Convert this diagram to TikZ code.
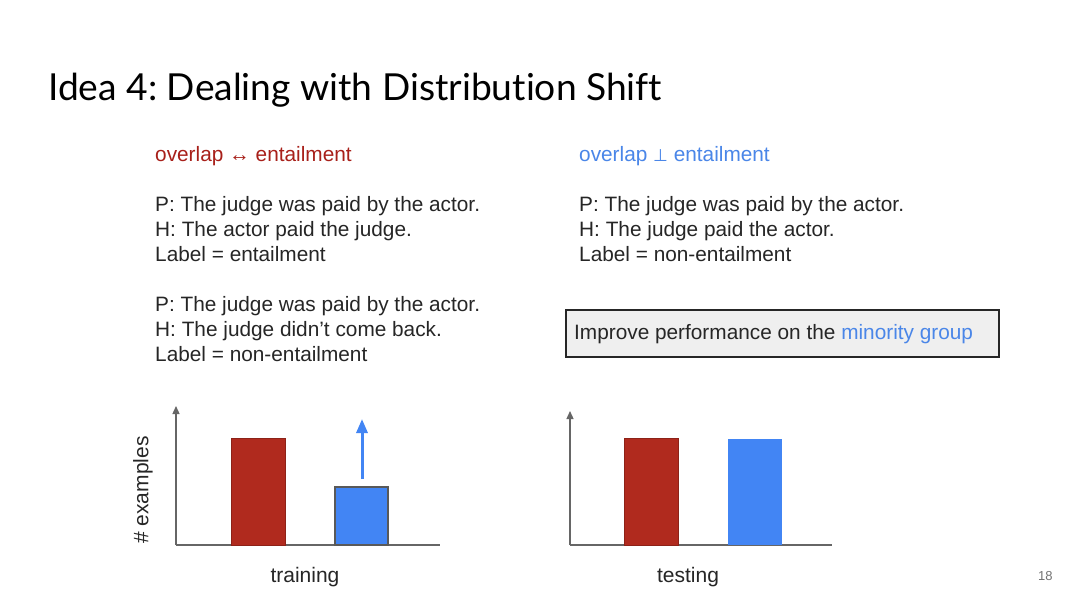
\documentclass[tikz,border=0pt]{standalone}
\usepackage{fontspec}
\setmainfont{Liberation Sans}
\newfontfamily\titlefont[Ligatures=NoCommon]{Lato}
\newfontfamily\symfont{DejaVu Sans}
\usetikzlibrary{arrows.meta}
\frenchspacing
\definecolor{txtred}{HTML}{A8201A}
\definecolor{txtblue}{HTML}{4A86E8}
\definecolor{barred}{HTML}{B02A1E}
\definecolor{barblue}{HTML}{4285F4}
\definecolor{axisgray}{HTML}{666666}
\definecolor{boxgray}{HTML}{EFEFEF}
\tikzset{
  body/.style={font=\fontsize{20.8}{25}\selectfont, inner sep=0pt, anchor=base west, text=black!85},
  axis/.style={draw=axisgray, line width=1.3pt, -{Triangle[length=8pt,width=7pt]}},
  baseline/.style={draw=axisgray, line width=1.3pt},
  bar/.style={inner sep=0pt, outer sep=0pt},
  lbl/.style={font=\fontsize{21}{25}\selectfont, inner sep=0pt, text=black!85}
}
\begin{document}
\begin{tikzpicture}[x=1pt,y=-1pt]
\useasboundingbox[fill=white] (0,0) rectangle (1080,608);
% title
\node[font=\titlefont\fontsize{37.2}{44}\selectfont, anchor=base west, inner sep=0pt] (title) at (48,100) {Idea 4: Dealing with Distribution Shift};
% left column
\node[body, text=txtred] (lh) at (155,161) {overlap ↔ entailment};
\node[body] (l1) at (155,211) {P: The judge was paid by the actor.};
\node[body] (l2) at (155,236) {H: The actor paid the judge.};
\node[body] (l3) at (155,261) {Label = entailment};
\node[body] (l4) at (155,311) {P: The judge was paid by the actor.};
\node[body] (l5) at (155,336) {H: The judge didn’t come back.};
\node[body] (l6) at (155,361) {Label = non-entailment};
% right column
\node[body, text=txtblue] (rh) at (579,161) {overlap {\symfont\fontsize{17}{20}\selectfont ⊥} entailment};
\node[body] (r1) at (579,211) {P: The judge was paid by the actor.};
\node[body] (r2) at (579,236) {H: The judge paid the actor.};
\node[body] (r3) at (579,261) {Label = non-entailment};
% box
\node[draw=black!85, line width=1.5pt, fill=boxgray, minimum width=433pt, minimum height=47pt, inner sep=0pt, anchor=north west] (goal) at (565,309) {};
\node[body, anchor=base west] (goaltxt) at (574,339.5) {Improve performance on the \textcolor{txtblue}{minority group}};
% training chart
\coordinate (to) at (176,545);
\coordinate (ty) at (176,406);
\coordinate (tx) at (440,545);
\draw[axis] (to) -- (ty);
\draw[baseline] (to) -- (tx);
\node[bar, fill=barred, draw=barred!80!black, line width=0.8pt, minimum width=54pt, minimum height=107pt, anchor=south west] (tred) at (231,545) {};
\node[bar, fill=barblue, draw=black!65, line width=1.2pt, minimum width=53pt, minimum height=58pt, anchor=south west] (tblue) at (335,545) {};
\coordinate (arrs) at (362,479);
\coordinate (arre) at (362,419);
\draw[draw=barblue, line width=3pt, -{Triangle[length=14pt,width=11pt]}] (arrs) -- (arre);
\node[lbl, rotate=90] (ylab) at (143,490) {\# examples};
\node[lbl, anchor=base] (trainlab) at (305,582) {training};
% testing chart
\coordinate (so) at (570,545);
\coordinate (sy) at (570,411);
\coordinate (sx) at (832,545);
\draw[axis] (so) -- (sy);
\draw[baseline] (so) -- (sx);
\node[bar, fill=barred, draw=barred!80!black, line width=0.8pt, minimum width=54pt, minimum height=107pt, anchor=south west] (sred) at (624,545) {};
\node[bar, fill=barblue, minimum width=54pt, minimum height=106pt, anchor=south west] (sblue) at (728,545) {};
\node[lbl, anchor=base] (testlab) at (688,582) {testing};
% page number
\node[font=\fontsize{13}{15}\selectfont, text=black!55, anchor=base west, inner sep=0pt] (pg) at (1038,580) {18};
\end{tikzpicture}
\end{document}
